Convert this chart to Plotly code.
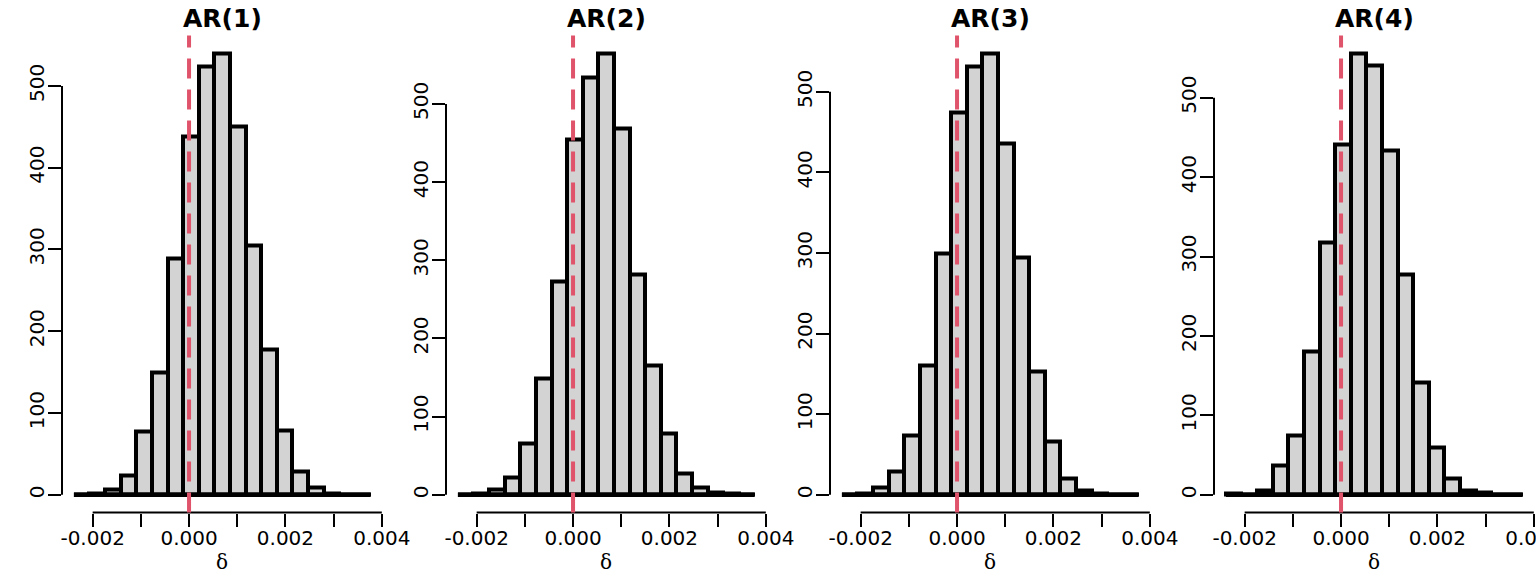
import plotly.graph_objects as go

# ---------------- data ----------------
panel_titles = ["AR(1)", "AR(2)", "AR(3)", "AR(4)"]

# histogram break points (shared by all four panels)
breaks = [-0.002390, -0.002066, -0.001742, -0.001418, -0.001094, -0.000770,
          -0.000446, -0.000122, 0.000202, 0.000526, 0.000850, 0.001174,
          0.001498, 0.001822, 0.002146, 0.002470, 0.002794, 0.003118,
          0.003442, 0.003766]

counts_ar1 = [1, 2, 6, 24, 77, 150, 289, 438, 524, 540, 450, 305, 178, 79, 29, 9, 2, 1, 0]
counts_ar2 = [1, 2, 7, 22, 66, 149, 273, 455, 534, 565, 468, 282, 165, 78, 27, 9, 3, 2, 1]
counts_ar3 = [1, 2, 9, 29, 74, 160, 300, 474, 532, 548, 436, 294, 153, 66, 20, 6, 2, 1, 0]
counts_ar4 = [2, 1, 6, 37, 75, 181, 318, 441, 556, 540, 433, 278, 142, 60, 21, 6, 3, 1, 0]
all_counts = [counts_ar1, counts_ar2, counts_ar3, counts_ar4]

x_tick_values = [-0.002, -0.001, 0.000, 0.001, 0.002, 0.003, 0.004]
x_tick_labels = ["-0.002", "", "0.000", "", "0.002", "", "0.004"]
y_tick_values = [0, 100, 200, 300, 400, 500]
y_tick_labels = ["0", "100", "200", "300", "400", "500"]
reference_value = 0.0
x_label = "δ"

# ---------------- styling / layout ----------------
W, H = 1536, 576
PANEL_W = 384
PLOT_LEFT, PLOT_RIGHT = 62.0, 382.4      # px inside each panel
PLOT_TOP, PLOT_BOTTOM = 35.5, 512.5      # px
BAR_FILL = "#D3D3D3"
OUTLINE_W = 4
AXIS_W = 2
REF_COLOR = "#DF536B"
FONT = "DejaVu Sans"

fig = go.Figure()

centers = [(a + b) / 2 for a, b in zip(breaks[:-1], breaks[1:])]
widths = [b - a for a, b in zip(breaks[:-1], breaks[1:])]
span = breaks[-1] - breaks[0]
x_range = [breaks[0] - 0.04 * span, breaks[-1] + 0.04 * span]

shapes = []
annotations = []
y_dom = [(H - PLOT_BOTTOM) / H, (H - PLOT_TOP) / H]

for i, (title, counts) in enumerate(zip(panel_titles, all_counts)):
    n = i + 1
    xa = "x" if n == 1 else f"x{n}"
    ya = "y" if n == 1 else f"y{n}"
    x_dom = [(PANEL_W * i + PLOT_LEFT) / W, (PANEL_W * i + PLOT_RIGHT) / W]
    ymax = max(counts)

    fig.add_trace(go.Bar(
        x=centers, y=counts, width=widths,
        marker=dict(color=BAR_FILL, line=dict(color="black", width=OUTLINE_W)),
        xaxis=xa, yaxis=ya, hoverinfo="skip", showlegend=False,
    ))
    # base line of the histogram (zero-height bins)
    fig.add_trace(go.Scatter(
        x=[breaks[0], breaks[-1]], y=[0, 0], mode="lines",
        line=dict(color="black", width=4.5),
        xaxis=xa, yaxis=ya, hoverinfo="skip", showlegend=False,
    ))

    axis_common = dict(
        showgrid=False, zeroline=False, showline=False,
        ticks="outside", ticklen=13, tickwidth=AXIS_W, tickcolor="black",
        tickfont=dict(family=FONT, size=20, color="black"),
        ticklabeloverflow="allow",
    )
    fig.update_layout(**{
        ("xaxis" if n == 1 else f"xaxis{n}"): dict(
            domain=x_dom, range=x_range, anchor=ya,
            tickmode="array", tickvals=x_tick_values, ticktext=x_tick_labels,
            ticklabelstandoff=-6, **axis_common),
        ("yaxis" if n == 1 else f"yaxis{n}"): dict(
            domain=y_dom, range=[-0.04 * ymax, 1.04 * ymax], anchor=xa,
            tickmode="array", tickvals=y_tick_values, ticktext=y_tick_labels,
            tickangle=-90, ticklabelstandoff=-4, **axis_common),
    })

    # R-style axis lines spanning only the tick range
    shapes.append(dict(type="line", xref=xa, yref=f"{ya} domain",
                       x0=x_tick_values[0], x1=x_tick_values[-1], y0=0, y1=0,
                       line=dict(color="black", width=AXIS_W)))
    shapes.append(dict(type="line", xref=f"{xa} domain", yref=ya,
                       x0=0, x1=0, y0=y_tick_values[0], y1=y_tick_values[-1],
                       line=dict(color="black", width=AXIS_W)))
    # dashed reference line
    shapes.append(dict(type="line", xref=xa, yref=f"{ya} domain",
                       x0=reference_value, x1=reference_value, y0=0, y1=1,
                       line=dict(color=REF_COLOR, width=4, dash="20px,11px")))

    xc = (x_dom[0] + x_dom[1]) / 2
    annotations.append(dict(text=f"<b>{title}</b>", x=xc, y=(H - 18) / H,
                            xref="paper", yref="paper", showarrow=False,
                            xanchor="center", yanchor="middle",
                            font=dict(family=FONT, size=25, color="black")))
    annotations.append(dict(text=x_label, x=xc, y=(H - 562) / H,
                            xref="paper", yref="paper", showarrow=False,
                            xanchor="center", yanchor="middle",
                            font=dict(family="DejaVu Serif", size=20, color="black")))

fig.update_layout(
    width=W, height=H,
    margin=dict(l=0, r=0, t=0, b=0, autoexpand=False),
    paper_bgcolor="white", plot_bgcolor="white",
    shapes=shapes, annotations=annotations, showlegend=False, bargap=0,
)

fig.write_html("out.html", config={"displayModeBar": False},
               post_script="document.body.style.margin='0';")
